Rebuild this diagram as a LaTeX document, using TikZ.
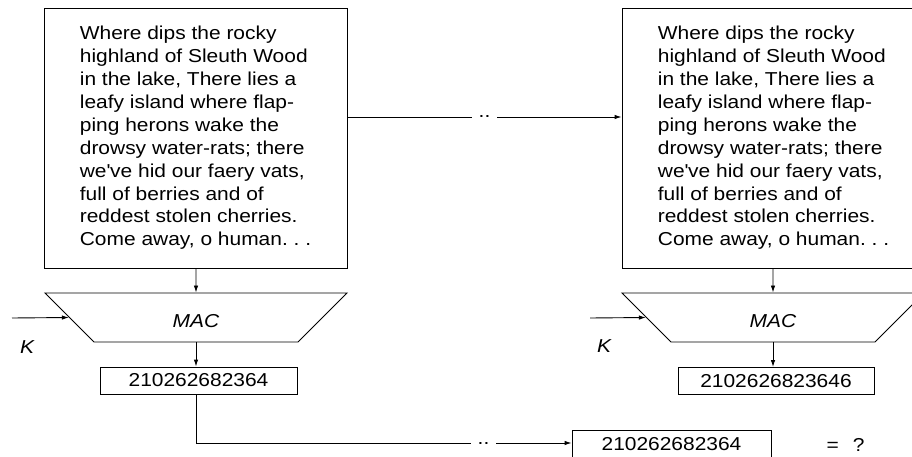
\documentclass[tikz,border=0pt]{standalone}
\usepackage{fontspec}
\setmainfont{Liberation Sans}[FakeStretch=1.12]
\usetikzlibrary{arrows.meta, shapes.geometric}

\newcommand{\poemtext}{Where dips the rocky\\ highland of Sleuth Wood\\ in the lake, There lies a\\ leafy island where flap-\\ ping herons wake the\\ drowsy water-rats; there\\ we\textquotesingle ve hid our faery vats,\\ full of berries and of\\ reddest stolen cherries.\\ Come away, o human.~.~.}

\begin{document}
\begin{tikzpicture}[x=1pt, y=-1pt, line width=0.9pt,
  font=\fontsize{18.7}{22.9}\selectfont,
  msgbox/.style={draw, align=left, minimum width=303pt, minimum height=260pt, inner sep=0pt},
  macbox/.style={draw, trapezium, trapezium angle=45, shape border rotate=180,
    trapezium stretches body, minimum width=302pt, inner xsep=0pt,
    inner ysep=14.3pt, text height=20.4pt, text depth=0pt,
    font=\fontsize{18.7}{22.9}\selectfont\itshape},
  tagbox/.style={draw, minimum width=197pt, minimum height=27pt, inner sep=0pt},
  gap/.style={inner sep=0pt, minimum width=25pt},
  arr/.style={-{Latex[length=7pt, width=4.5pt]}}]
  \useasboundingbox (0,0) rectangle (912,457);

  % sender side
  \node[msgbox] (msgA) at (195.5,138) {\poemtext};
  \node[macbox] (macA) at (196,317.5) {MAC};
  \node[tagbox] (tagA) at (198.5,380.5) {210262682364};
  \node[font=\fontsize{18.7}{22.9}\selectfont\itshape] (keyA) at (27,347) {K};
  \coordinate (kinA) at (12,318);

  % receiver side
  \node[msgbox] (msgB) at (773.5,138) {\poemtext};
  \node[macbox] (macB) at (773,317.5) {MAC};
  \node[tagbox, minimum width=196pt] (tagB) at (776,381) {2102626823646};
  \node[font=\fontsize{18.7}{22.9}\selectfont\itshape] (keyB) at (604,346) {K};
  \coordinate (kinB) at (590,318);

  % transmitted tag and comparison
  \node[tagbox, minimum width=199pt] (tagC) at (671.5,444) {210262682364};
  \node (eq) at (845.5,445) {=\hspace{14pt}?};

  % gaps in the channel lines
  \node[gap] (dotsA) at (484.5,117) {..};
  \node[gap] (dotsB) at (483.5,443) {..};

  % arrows
  \draw[arr] (msgA.south -| macA) -- (macA.north);
  \draw[arr] (macA.south) -- (macA.south |- tagA.north);
  \draw[arr] (kinA) -- (macA.west);
  \draw[arr] (msgB.south -| macB) -- (macB.north);
  \draw[arr] (macB.south) -- (macB.south |- tagB.north);
  \draw[arr] (kinB) -- (macB.west);

  \draw (msgA.east |- dotsA) -- (dotsA.west);
  \draw[arr] (dotsA.east) -- (msgB.west |- dotsA);
  \draw (macA.south |- tagA.south) |- (dotsB.west);
  \draw[arr] (dotsB.east) -- (tagC.west |- dotsB);
\end{tikzpicture}
\end{document}
